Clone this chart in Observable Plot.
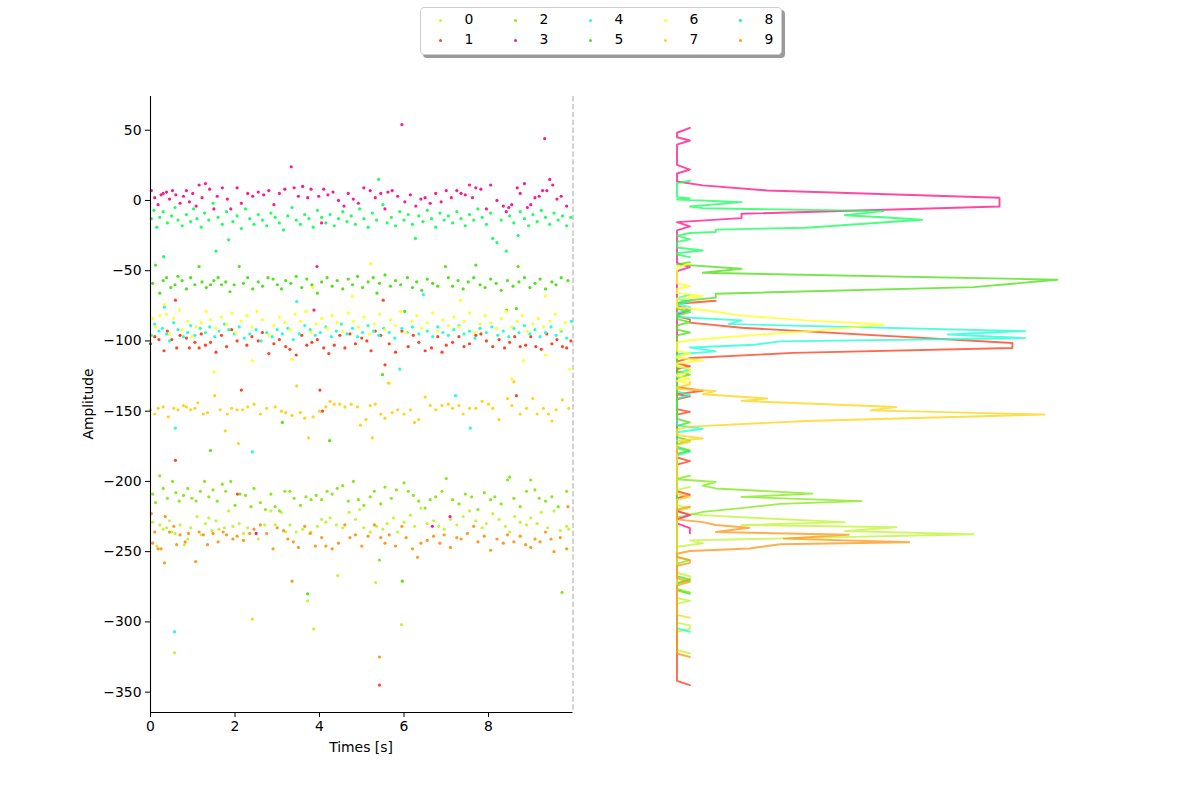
<!DOCTYPE html>
<html><head><meta charset="utf-8">
<script src="https://cdn.jsdelivr.net/npm/d3@7"></script>
<script src="https://cdn.jsdelivr.net/npm/@observablehq/plot@0.6"></script>
<style>
body{margin:0;background:#fff;font-family:"DejaVu Sans",sans-serif;}
#wrap{position:relative;width:1200px;height:800px;overflow:hidden;background:#fff}
#wrap svg{position:absolute;top:0}
#legend{position:absolute;left:420px;top:7px;width:360px;height:46px;border:1px solid #cfcfcf;border-radius:4px;background:#fff;box-shadow:3px 3px 0 #9a9a9a;}
.lg-m{position:absolute;width:3px;height:3px;border-radius:50%;}
.lg-t{position:absolute;font-size:13.9px;line-height:16px;color:#000}
.lbl{position:absolute;font-size:13.9px;color:#000;white-space:nowrap;transform:translate(-50%,-50%)}
</style></head>
<body><div id="wrap"><div id="legend"></div></div>
<script>
const unitIds = ["0","1","2","3","4","5","6","7","8","9"];
const unitColors = ["#c3f53a","#ff4422","#86ea1e","#ff1a8a","#22ffd6","#55e01e","#ffff22","#ffd41e","#1eff62","#ff9a1e"];
const timeTicks = [0,2,4,6,8];
const ampTicks = [50,0,-50,-100,-150,-200,-250,-300,-350];

// spike scatter: [time s, amplitude]
const u0 = [[0.05,-229],[0.15,-246],[0.22,-231],[0.3,-234],[0.38,-233],[0.45,-228],[0.5,-236],[0.58,-237],[0.57,-322],[0.7,-231],[0.8,-245],[0.88,-241],[0.95,-233],[1.1,-225],[1.2,-238],[1.3,-230],[1.38,-226],[1.45,-235],[1.55,-228],[1.62,-234],[1.75,-233],[1.85,-221],[1.95,-232],[2.1,-230],[2.2,-237],[2.3,-233],[2.55,-241],[2.7,-231],[2.85,-221],[2.95,-231],[3.1,-222],[3.2,-236],[3.3,-231],[3.45,-236],[3.6,-234],[3.72,-285],[3.86,-305],[3.8,-236],[3.95,-232],[4.05,-227],[4.15,-229],[4.25,-226],[4.43,-267],[4.4,-231],[4.55,-233],[4.7,-222],[4.85,-227],[4.95,-220],[5.05,-233],[5.2,-236],[5.33,-272],[5.35,-232],[5.5,-234],[5.6,-230],[5.75,-226],[5.85,-236],[5.94,-302],[6.0,-229],[6.15,-224],[6.25,-232],[6.4,-219],[6.55,-230],[6.7,-228],[6.82,-232],[6.95,-234],[7.1,-227],[7.25,-231],[7.4,-225],[7.55,-221],[7.7,-228],[7.85,-233],[7.95,-230],[8.1,-223],[8.25,-227],[8.4,-232],[8.5,-236],[8.62,-225],[8.75,-229],[8.9,-231],[9.0,-226],[9.15,-230],[9.25,-222],[9.4,-233],[9.55,-221],[9.7,-235],[9.85,-232],[9.9,-234]];
const u1 = [[0.0,-102],[0.1,-97],[0.2,-99],[0.32,-107],[0.4,-93],[0.5,-99],[0.59,-71],[0.62,-105],[0.7,-96],[0.85,-98],[0.92,-105],[1.05,-101],[1.15,-105],[1.2,-95],[1.3,-103],[1.42,-101],[1.55,-108],[1.68,-96],[1.8,-104],[1.92,-92],[2.05,-100],[2.15,-135],[2.06,-209],[2.28,-103],[2.4,-97],[2.55,-100],[2.65,-94],[2.8,-109],[2.92,-102],[3.05,-99],[3.2,-104],[3.3,-106],[3.45,-110],[3.58,-96],[3.7,-103],[3.82,-101],[3.95,-99],[4.01,-135],[4.07,-150],[4.1,-105],[4.22,-109],[4.35,-103],[4.48,-96],[4.6,-105],[4.72,-95],[4.85,-102],[5.0,-98],[5.12,-100],[5.22,-107],[5.32,-93],[5.42,-345],[5.45,-96],[5.51,-71],[5.55,-117],[5.65,-102],[5.8,-108],[5.95,-93],[6.1,-104],[6.22,-96],[6.35,-101],[6.5,-107],[6.65,-105],[6.8,-97],[6.9,-108],[7.0,-103],[7.15,-101],[7.3,-97],[7.42,-104],[7.55,-102],[7.7,-96],[7.82,-95],[7.95,-100],[8.1,-104],[8.25,-99],[8.38,-105],[8.5,-101],[8.62,-97],[8.66,-139],[8.75,-104],[8.88,-103],[9.0,-97],[9.12,-104],[9.25,-106],[9.38,-95],[9.5,-102],[9.62,-99],[9.75,-104],[9.85,-105],[9.95,-100],[0.59,-185]];
const u2 = [[0.05,-209],[0.12,-215],[0.22,-196],[0.3,-205],[0.4,-212],[0.52,-200],[0.6,-208],[0.68,-214],[0.78,-210],[0.88,-205],[0.98,-212],[1.08,-214],[1.18,-207],[1.28,-200],[1.38,-211],[1.48,-206],[1.58,-214],[1.7,-202],[1.78,-207],[1.9,-200],[2.0,-217],[2.12,-209],[2.25,-210],[2.38,-218],[2.45,-205],[2.6,-215],[2.72,-220],[2.85,-209],[2.95,-218],[3.05,-221],[3.18,-207],[3.3,-207],[3.4,-212],[3.55,-217],[3.68,-211],[3.8,-213],[3.92,-210],[4.05,-213],[4.18,-207],[4.3,-209],[4.42,-205],[4.55,-203],[4.68,-214],[4.8,-200],[4.92,-213],[5.05,-217],[5.2,-211],[5.3,-207],[5.42,-256],[5.45,-216],[5.55,-204],[5.7,-212],[5.82,-206],[6.0,-201],[6.1,-207],[6.22,-210],[6.35,-214],[6.5,-219],[6.62,-213],[6.75,-211],[6.9,-207],[7.0,-198],[7.15,-213],[7.3,-216],[7.45,-209],[7.6,-211],[7.75,-220],[7.9,-208],[8.05,-213],[8.15,-211],[8.3,-216],[8.45,-199],[8.5,-197],[8.6,-212],[8.75,-218],[8.9,-207],[9.0,-199],[9.1,-206],[9.2,-212],[9.35,-214],[9.5,-211],[9.65,-218],[9.74,-279],[9.85,-207]];
const u3 = [[0.02,7],[0.1,2],[0.18,-3],[0.25,4],[0.3,5],[0.38,6],[0.45,1],[0.52,7],[0.6,4],[0.7,-2],[0.78,3],[0.85,7],[0.92,-1],[1.0,5],[1.08,-4],[1.15,11],[1.22,2],[1.3,12],[1.4,8],[1.5,-6],[1.58,3],[1.7,9],[1.82,1],[1.9,-6],[2.05,9],[2.15,-2],[2.3,5],[2.42,3],[2.55,6],[2.68,4],[2.8,7],[2.92,-3],[3.05,5],[3.18,8],[3.33,24],[3.4,9],[3.5,3],[3.6,10],[3.72,2],[3.8,8],[3.87,-78],[3.94,-47],[3.98,3],[4.05,-16],[4.1,8],[4.2,4],[4.32,6],[4.45,0],[4.58,-4],[4.68,5],[4.8,1],[4.92,-2],[5.05,9],[5.2,7],[5.32,2],[5.45,5],[5.55,-6],[5.62,6],[5.72,7],[5.85,3],[5.95,54],[6.02,-1],[6.15,4],[6.28,-4],[6.4,1],[6.5,2],[6.62,-2],[6.75,5],[6.88,-1],[7.0,7],[7.12,2],[7.25,7],[7.35,5],[7.45,4],[7.55,11],[7.62,2],[7.7,9],[7.82,8],[7.95,-6],[8.05,11],[8.2,0],[8.35,-4],[8.42,-8],[8.48,-5],[8.55,-3],[8.68,9],[8.75,5],[8.85,12],[8.92,-5],[9.0,-3],[9.1,2],[9.2,3],[9.28,7],[9.33,44],[9.38,7],[9.45,15],[9.52,11],[9.62,1],[9.72,3],[9.85,-4],[2.5,-237],[6.67,-232],[7.09,-225]];
const u4 = [[0.02,-96],[0.1,-88],[0.2,-93],[0.28,-91],[0.33,-76],[0.38,-95],[0.45,-100],[0.55,-87],[0.59,-162],[0.57,-307],[0.65,-92],[0.78,-97],[0.88,-94],[0.95,-89],[1.05,-96],[1.18,-91],[1.3,-94],[1.4,-90],[1.52,-97],[1.62,-93],[1.75,-88],[1.85,-92],[1.98,-95],[2.1,-90],[2.22,-98],[2.35,-95],[2.41,-179],[2.5,-92],[2.62,-100],[2.75,-94],[2.88,-97],[3.0,-92],[3.12,-95],[3.25,-91],[3.38,-99],[3.46,-72],[3.52,-95],[3.65,-89],[3.78,-92],[3.9,-96],[4.02,-94],[4.15,-90],[4.28,-97],[4.4,-93],[4.52,-88],[4.65,-95],[4.78,-91],[4.9,-97],[5.02,-94],[5.15,-89],[5.28,-93],[5.4,-96],[5.52,-91],[5.65,-94],[5.78,-98],[5.9,-120],[5.95,-91],[6.08,-94],[6.2,-90],[6.35,-95],[6.46,-67],[6.55,-93],[6.68,-97],[6.8,-90],[6.92,-94],[7.05,-96],[7.22,-139],[7.18,-92],[7.3,-89],[7.42,-95],[7.57,-162],[7.55,-93],[7.68,-98],[7.8,-91],[7.95,-94],[8.08,-90],[8.22,-96],[8.35,-93],[8.48,-97],[8.6,-91],[8.72,-94],[8.85,-89],[8.98,-95],[9.1,-92],[9.22,-97],[9.35,-94],[9.48,-90],[9.6,-96],[9.72,-93],[9.85,-98],[9.96,-86]];
const u5 = [[0.05,-59],[0.12,-46],[0.22,-66],[0.3,-57],[0.38,-55],[0.48,-62],[0.58,-60],[0.65,-54],[0.75,-57],[0.85,-63],[0.95,-55],[1.05,-60],[1.15,-47],[1.22,-58],[1.32,-62],[1.42,-60],[1.42,-178],[1.5,-57],[1.6,-55],[1.68,-60],[1.78,-58],[1.88,-65],[1.98,-60],[2.1,-47],[2.2,-59],[2.3,-55],[2.42,-63],[2.55,-58],[2.65,-61],[2.78,-55],[2.9,-56],[3.0,-60],[3.12,-158],[3.1,-63],[3.2,-57],[3.32,-59],[3.45,-54],[3.58,-62],[3.72,-280],[3.7,-56],[3.82,-60],[3.95,-66],[4.05,-58],[4.18,-55],[4.24,-171],[4.3,-61],[4.42,-57],[4.55,-63],[4.68,-56],[4.78,-60],[4.9,-54],[5.02,-62],[5.15,-58],[5.27,-55],[5.36,-66],[5.49,-124],[5.42,-59],[5.55,-53],[5.68,-61],[5.8,-57],[5.96,-271],[5.92,-60],[6.02,-79],[6.08,-55],[6.2,-62],[6.3,-58],[6.42,-64],[6.55,-56],[6.68,-59],[6.8,-61],[6.98,-47],[7.05,-55],[7.15,-61],[7.28,-57],[7.4,-63],[7.52,-58],[7.65,-55],[7.7,-46],[7.8,-60],[7.92,-62],[8.05,-56],[8.18,-59],[8.3,-64],[8.43,-78],[8.45,-57],[8.58,-61],[8.66,-77],[8.7,-47],[8.72,-58],[8.85,-55],[8.98,-62],[9.1,-59],[9.22,-56],[9.35,-63],[9.5,-58],[9.6,-60],[9.72,-55],[9.88,-57]];
const u6 = [[0.05,-84],[0.12,-90],[0.22,-82],[0.33,-74],[0.38,-81],[0.45,-95],[0.55,-84],[0.68,-78],[0.75,-92],[0.88,-86],[0.98,-97],[1.08,-90],[1.2,-87],[1.32,-79],[1.42,-85],[1.5,-122],[1.55,-91],[1.68,-83],[1.8,-88],[1.92,-80],[2.02,-94],[2.15,-86],[2.28,-82],[2.41,-114],[2.4,-90],[2.52,-79],[2.65,-85],[2.8,-96],[2.92,-89],[3.05,-83],[3.18,-87],[3.3,-92],[3.35,-113],[3.42,-81],[3.55,-86],[3.68,-79],[3.84,-62],[3.8,-94],[3.92,-88],[4.05,-84],[4.18,-91],[4.3,-82],[4.42,-87],[4.55,-93],[4.68,-80],[4.78,-68],[4.8,-86],[4.92,-90],[5.05,-83],[5.21,-45],[5.18,-95],[5.3,-88],[5.42,-81],[5.55,-92],[5.66,-130],[5.68,-85],[5.8,-89],[5.92,-79],[6.05,-94],[6.18,-86],[6.3,-82],[6.42,-91],[6.55,-87],[6.68,-80],[6.8,-93],[6.92,-85],[7.05,-89],[7.18,-83],[7.34,-71],[7.3,-90],[7.42,-86],[7.55,-80],[7.68,-94],[7.8,-88],[7.92,-82],[8.05,-87],[8.18,-91],[8.3,-84],[8.42,-79],[8.55,-127],[8.55,-90],[8.68,-86],[8.8,-82],[8.83,-114],[8.92,-93],[9.05,-88],[9.18,-84],[9.3,-90],[9.35,-68],[9.35,-110],[9.45,-86],[9.58,-81],[9.7,-92],[9.82,-87],[9.92,-120]];
const u7 = [[0.0,-149],[0.1,-152],[0.18,-148],[0.3,-147],[0.42,-154],[0.55,-148],[0.65,-149],[0.78,-146],[0.85,-147],[0.95,-149],[1.05,-148],[1.12,-144],[1.25,-152],[1.35,-151],[1.52,-139],[1.65,-149],[1.77,-164],[1.82,-152],[1.92,-148],[2.05,-149],[2.08,-173],[2.18,-149],[2.3,-147],[2.41,-298],[2.45,-145],[2.6,-152],[2.75,-148],[2.95,-147],[3.1,-150],[3.2,-151],[3.35,-153],[3.46,-132],[3.55,-151],[3.65,-155],[3.74,-169],[3.85,-154],[4.0,-150],[4.15,-147],[4.25,-143],[4.35,-145],[4.48,-145],[4.6,-147],[4.75,-145],[4.9,-147],[4.97,-160],[5.1,-156],[5.2,-146],[5.25,-169],[5.32,-145],[5.45,-152],[5.55,-155],[5.63,-130],[5.72,-151],[5.85,-149],[6.0,-152],[6.15,-149],[6.25,-158],[6.35,-156],[6.5,-140],[6.62,-146],[6.75,-149],[6.9,-146],[7.05,-145],[7.15,-148],[7.3,-146],[7.4,-152],[7.55,-148],[7.7,-148],[7.85,-143],[8.0,-145],[8.1,-148],[8.25,-156],[8.45,-141],[8.55,-146],[8.6,-129],[8.75,-152],[8.9,-148],[9.05,-141],[9.15,-152],[9.3,-148],[9.42,-152],[9.5,-157],[9.6,-149],[9.75,-142],[9.9,-148]];
const u8 = [[0.02,-13],[0.08,-7],[0.15,-19],[0.22,-12],[0.31,-40],[0.3,-8],[0.4,-16],[0.5,-11],[0.58,-5],[0.65,-14],[0.75,-18],[0.85,-10],[0.95,-15],[1.02,-6],[1.1,-13],[1.2,-19],[1.28,-9],[1.38,-14],[1.48,-2],[1.55,-36],[1.6,-12],[1.7,-17],[1.8,-8],[1.85,-28],[1.95,-15],[2.05,-11],[2.15,-20],[2.25,-6],[2.35,-13],[2.45,-17],[2.55,-10],[2.65,-14],[2.75,-18],[2.85,-9],[2.95,-12],[3.05,-16],[3.15,-21],[3.25,-11],[3.35,-5],[3.45,-14],[3.55,-17],[3.65,-10],[3.75,-13],[3.85,-19],[3.95,-7],[4.05,-12],[4.15,-16],[4.25,-10],[4.35,-18],[4.45,-13],[4.55,-8],[4.65,-15],[4.75,-11],[4.85,-17],[4.95,-6],[5.05,-13],[5.15,-19],[5.25,-9],[5.35,-14],[5.4,15],[5.5,-3],[5.6,-16],[5.7,-12],[5.8,-18],[5.9,-8],[6.0,-14],[6.1,-10],[6.2,-17],[6.27,-27],[6.35,-11],[6.45,-15],[6.55,-7],[6.65,-13],[6.75,-19],[6.85,-9],[6.95,-14],[7.05,-11],[7.15,-16],[7.25,-8],[7.35,-13],[7.45,-18],[7.55,-10],[7.65,-14],[7.75,-6],[7.85,-12],[7.95,-17],[8.05,-9],[8.1,-27],[8.2,-30],[8.3,-14],[8.42,-36],[8.5,-11],[8.6,-16],[8.7,-25],[8.75,-8],[8.85,-13],[8.95,-18],[9.05,-10],[9.15,-15],[9.25,-7],[9.35,-12],[9.45,-17],[9.55,-9],[9.65,-14],[9.75,-11],[9.85,-18],[9.95,-12]];
const u9 = [[0.02,-223],[0.05,-244],[0.1,-236],[0.18,-248],[0.25,-248],[0.33,-258],[0.35,-225],[0.45,-236],[0.55,-232],[0.62,-245],[0.7,-238],[0.82,-243],[0.9,-237],[1.07,-257],[1.15,-236],[1.25,-238],[1.35,-245],[1.48,-237],[1.6,-243],[1.72,-236],[1.8,-238],[1.95,-241],[2.05,-239],[2.2,-242],[2.35,-237],[2.45,-234],[2.6,-231],[2.75,-237],[2.9,-248],[3.0,-233],[3.15,-235],[3.25,-241],[3.35,-271],[3.38,-243],[3.5,-247],[3.65,-232],[3.78,-237],[3.9,-246],[4.05,-240],[4.15,-246],[4.3,-248],[4.45,-244],[4.6,-231],[4.72,-240],[4.85,-238],[5.0,-246],[5.15,-239],[5.3,-231],[5.42,-325],[5.45,-240],[5.55,-244],[5.65,-238],[5.8,-246],[5.95,-232],[6.05,-240],[6.2,-248],[6.32,-254],[6.4,-244],[6.55,-242],[6.7,-239],[6.85,-244],[6.95,-238],[7.1,-247],[7.25,-240],[7.35,-241],[7.5,-237],[7.65,-232],[7.75,-243],[7.9,-239],[8.05,-249],[8.2,-241],[8.35,-244],[8.45,-238],[8.6,-243],[8.75,-239],[8.88,-245],[9.0,-247],[9.1,-241],[9.22,-243],[9.35,-236],[9.48,-241],[9.55,-250],[9.7,-240],[9.88,-218],[9.85,-248]];

// amplitude histograms (vertices): [amplitude, count]
const h0 = [[-204,1],[-206,0],[-217,0],[-219,1],[-221,0],[-222,0],[-224,2],[-225.5,5],[-229,13],[-231,5],[-232.6,17],[-235.4,13],[-237.6,23],[-242,1],[-244,2],[-246.5,0],[-265,0],[-267.5,1],[-270,1],[-272.5,0],[-283,0],[-285,1],[-287,0],[-300.5,0],[-302.5,1],[-305,1],[-307,0],[-320,0],[-322.5,1]];
const h1 = [[-71.4,3],[-73.5,0],[-82.5,0],[-84.7,1],[-87,1],[-90.6,5],[-101.5,26],[-105,26],[-108.5,9],[-112.2,1],[-114.5,0],[-116,0],[-118,1],[-120,0],[-133,0],[-135.5,2],[-138,0],[-139.5,1],[-141.5,0],[-148.5,0],[-150.5,1],[-152.5,0],[-183,0],[-185.5,1],[-188,0],[-207,0],[-209.5,1],[-212,0],[-342,0],[-345,1]];
const h2 = [[-196,1],[-198,0],[-198.5,0],[-200.4,3],[-203,2],[-205,3],[-208.7,10.5],[-211,5],[-214,14.3],[-216,8],[-219,5],[-221.7,2],[-224,1],[-225.5,0],[-253.5,0],[-256,1],[-258.5,0],[-276.5,0],[-279,1]];
const h3 = [[51.7,1],[48.2,0],[45,0],[42.7,1],[39.8,0],[25.4,0],[22,1],[19.2,0],[13.5,0],[10.7,2],[7.1,7],[1.9,25],[-4.3,25],[-9.5,5],[-12.6,5],[-15.4,0],[-18.5,1],[-21.3,0],[-44.5,0],[-47.4,1],[-50.3,0],[-75,0],[-78,1],[-81,0],[-221,0],[-224,1],[-227,0],[-229.8,0],[-233.3,1],[-237,1]];
const h4 = [[-67,1],[-69.5,0],[-70,0],[-72,1],[-74,0],[-76,1],[-78,1],[-80,0],[-83,0],[-85.4,5],[-88,4],[-93,27],[-95.4,21],[-98,27],[-100.3,8],[-102.7,6],[-104.7,1],[-107.4,3],[-109.5,0],[-118,0],[-120.5,1],[-123,0],[-136,0],[-138.5,1],[-141,0],[-160,0],[-162.5,2],[-165,0],[-176.5,0],[-179,1],[-181.5,0],[-304.5,0],[-307,1]];
const h5 = [[-44,1],[-45.5,0],[-48.6,5],[-51.5,2],[-56.4,29.5],[-61.7,23],[-66.4,3],[-69.2,3],[-71,1],[-73,0],[-77,0],[-79.5,1],[-82,0],[-84.5,0],[-86.6,1],[-89,0],[-92,0],[-94,1],[-96,0],[-121.5,0],[-124,1],[-126.5,0],[-155.5,0],[-158,1],[-160.5,0],[-168.5,0],[-171,1],[-173.5,0],[-175.5,0],[-178,1],[-180.5,0],[-267.5,0],[-270,1],[-272.5,0],[-277.5,0],[-280,1]];
const h6 = [[-45,1],[-47.5,0],[-59,0],[-61,1],[-63,0],[-66,0],[-68,2],[-70,0],[-76,0],[-78,2],[-82,5],[-85.4,10],[-88.2,16],[-92.5,11],[-97.2,4],[-99.5,1],[-101,0],[-107,0],[-109,1],[-111,0],[-112,0],[-114,2],[-116,0],[-118,0],[-120,1],[-122,1],[-124,0],[-125,0],[-127,1],[-128.5,0],[-130,1]];
const h7 = [[-129,1],[-131,1],[-133,0],[-134,0],[-135.6,3],[-138,2],[-141,7],[-142.7,5],[-147,17],[-149.4,15],[-152.4,28.5],[-157,10],[-161,1],[-163,0],[-167,0],[-169.5,2],[-171,0],[-172,1],[-174,0],[-209,0],[-211,1],[-213,0],[-295,0],[-297,1]];
const h8 = [[14,1],[12.3,0],[2.4,0],[1.4,1],[0.7,0],[-1.2,5],[-4.3,1],[-5.5,2],[-7.6,16],[-10.5,13],[-12,16],[-13.7,19],[-19.4,10],[-20.8,3],[-22.5,3],[-23.2,1],[-25,0],[-27.7,1],[-29.5,0],[-33.5,0],[-35.6,2],[-37.5,0],[-38.5,0],[-40.3,1]];
const h9 = [[-218,1],[-220,0],[-227,0],[-229,2],[-231,3],[-233,5.6],[-236,3],[-238,13.3],[-240.7,8.3],[-243.3,18],[-244.7,8],[-247.8,5.6],[-249.5,1],[-251.5,0],[-254,0],[-256,1],[-258,1],[-260,0],[-269,0],[-271.5,1],[-274,0],[-322.5,0],[-325,1]];

const spikes = [u0,u1,u2,u3,u4,u5,u6,u7,u8,u9];
const hists = [h0,h1,h2,h3,h4,h5,h6,h7,h8,h9];

const scatterRows = spikes.flatMap((pts,i)=>pts.map(([t,a])=>({unit:unitIds[i],t,a})));
const histRows = hists.flatMap((pts,i)=>pts.map(([a,c])=>({unit:unitIds[i],a,c})));
const colorScale = {type:"ordinal", domain:unitIds, range:unitColors};
const yDomain = [-364.5, 74];
const font = {fontFamily:"DejaVu Sans", fontSize:"13.9px", color:"#000", background:"transparent"};

const left = Plot.plot({
  width:600, height:800, marginLeft:150, marginRight:27.5, marginTop:96, marginBottom:88,
  style:font,
  x:{domain:[0,10]}, y:{domain:yDomain}, color:colorScale,
  marks:[
    Plot.ruleX([10],{stroke:"#a8a8a8", strokeWidth:1, strokeDasharray:"5.5,2.4"}),
    Plot.dot(scatterRows,{x:"t", y:"a", fill:"unit", r:1.6}),
    Plot.axisX({ticks:timeTicks, tickSize:5, tickPadding:4, label:null, fontSize:13.9, tickFormat:d=>String(d)}),
    Plot.axisY({ticks:ampTicks, tickSize:5, tickPadding:4, label:null, fontSize:13.9}),
    Plot.ruleX([0],{stroke:"#000", strokeWidth:1.1}),
    Plot.ruleY([yDomain[0]],{stroke:"#000", strokeWidth:1.1})
  ]
});
left.style.left = "0px";

const right = Plot.plot({
  width:600, height:800, marginLeft:76.5, marginRight:136.5, marginTop:96, marginBottom:88,
  style:font,
  x:{domain:[0,30], axis:null}, y:{domain:yDomain, axis:null}, color:colorScale,
  marks:[
    Plot.line(histRows,{x:"c", y:"a", z:"unit", stroke:"unit", strokeOpacity:0.8, strokeWidth:1.9})
  ]
});
right.style.left = "600px";

const wrap = document.getElementById("wrap");
wrap.appendChild(left);
wrap.appendChild(right);

// axis labels
const ylab = document.createElement("div");
ylab.className = "lbl"; ylab.textContent = "Amplitude";
ylab.style.left = "88px"; ylab.style.top = "404px";
ylab.style.transform = "translate(-50%,-50%) rotate(-90deg)";
wrap.appendChild(ylab);
const xlab = document.createElement("div");
xlab.className = "lbl"; xlab.textContent = "Times [s]";
xlab.style.left = "361px"; xlab.style.top = "747px";
wrap.appendChild(xlab);

// legend
const lg = document.getElementById("legend");
unitIds.forEach((u,i)=>{
  const col = Math.floor(i/2), row = i%2;
  const m = document.createElement("div");
  m.className = "lg-m"; m.style.background = unitColors[i];
  m.style.left = (17.5 + 75*col) + "px"; m.style.top = (10.5 + 20*row) + "px";
  lg.appendChild(m);
  const t = document.createElement("div");
  t.className = "lg-t"; t.textContent = u;
  t.style.left = (43.5 + 75*col) + "px"; t.style.top = (3 + 20*row) + "px";
  lg.appendChild(t);
});
</script>
</body></html>
